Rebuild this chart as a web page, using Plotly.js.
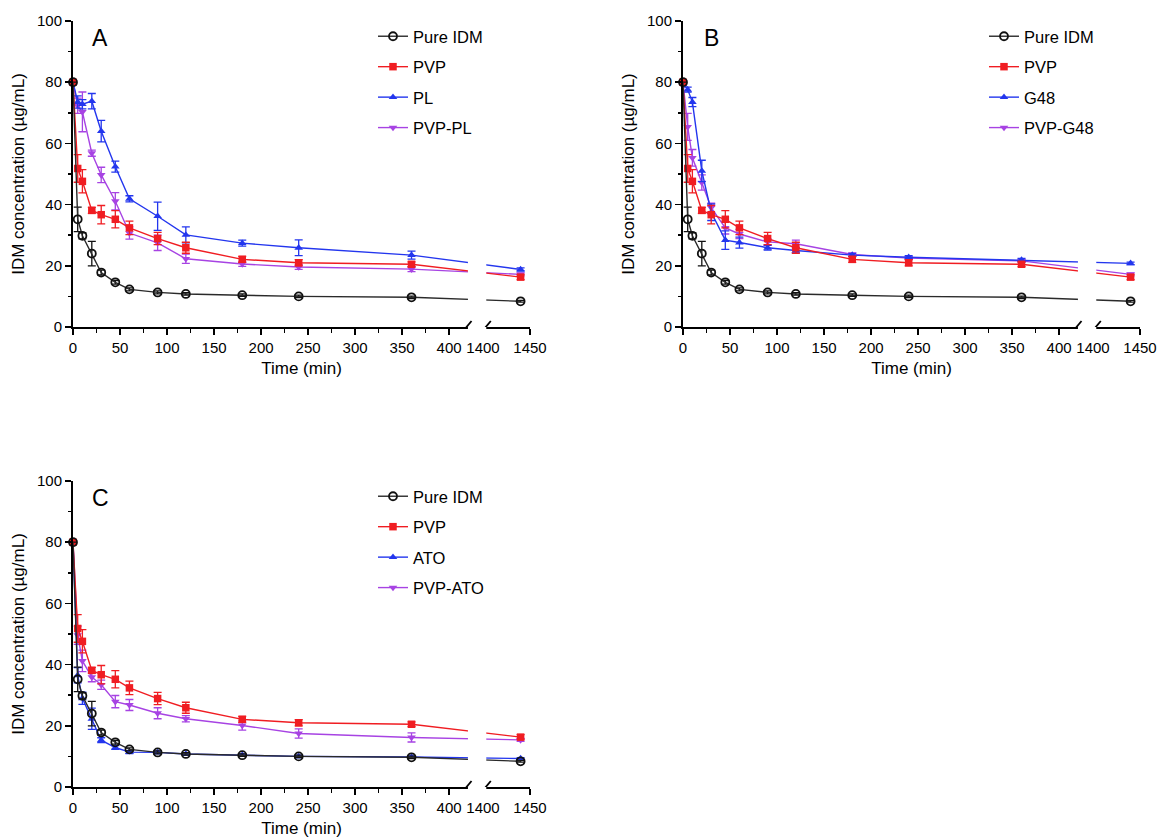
<!DOCTYPE html>
<html>
<head>
<meta charset="utf-8">
<script src="https://cdn.plot.ly/plotly-3.0.1.min.js"></script>
<style>html,body{margin:0;padding:0;background:#fff;}#chart{width:1161px;height:840px;}</style>
</head>
<body>
<div id="chart"></div>
<script>
// ---- data ----
const time = [0, 5, 10, 20, 30, 45, 60, 90, 120, 180, 240, 360, 1440];

const pureIDM     = [80, 35.2, 29.8, 24.0, 17.8, 14.6, 12.3, 11.3, 10.8, 10.4, 10.0, 9.7, 8.4];
const pureIDMErr  = [0, 4.0, 1.0, 4.0, 0.8, 0.6, 0.5, 0.5, 0.4, 0.4, 0.4, 0.4, 0.3];
const pvp         = [80, 51.8, 47.6, 38.1, 36.7, 35.2, 32.4, 28.9, 25.9, 22.1, 21.0, 20.5, 16.3];
const pvpErr      = [0, 4.5, 3.8, 1.0, 3.0, 2.8, 2.2, 2.0, 1.8, 1.0, 1.0, 0.8, 0.8];
const pl          = [80, 73.5, 72.8, 73.8, 64.0, 52.4, 41.9, 36.2, 30.1, 27.4, 25.9, 23.5, 18.8];
const plErr       = [0, 2.0, 1.5, 2.5, 3.5, 1.8, 1.0, 4.6, 2.6, 1.0, 2.6, 1.3, 0.5];
const pvpPl       = [80, 72.3, 70.3, 56.8, 49.7, 41.1, 30.7, 27.5, 22.3, 20.6, 19.6, 18.9, 17.2];
const pvpPlErr    = [0, 2.5, 6.5, 1.0, 2.5, 2.8, 2.0, 2.5, 1.5, 0.8, 0.8, 0.8, 0.5];
const g48         = [80, 77.6, 73.5, 51.0, 37.5, 28.4, 27.6, 25.9, 25.0, 23.5, 22.8, 21.9, 20.8];
const g48Err      = [0, 0.8, 1.5, 3.5, 2.7, 3.0, 1.8, 0.8, 0.8, 0.5, 0.5, 0.5, 0.4];
const pvpG48      = [80, 65.4, 55.3, 47.2, 39.0, 32.4, 30.4, 27.8, 27.2, 23.7, 22.5, 21.6, 17.2];
const pvpG48Err   = [0, 4.4, 2.7, 2.5, 1.5, 2.0, 1.5, 1.0, 1.2, 0.5, 0.5, 0.5, 0.5];
const ato         = [80, 36.5, 29.0, 22.3, 15.3, 12.9, 11.4, 11.3, 10.8, 10.4, 10.0, 9.8, 9.3];
const atoErr      = [0, 2.5, 2.0, 3.5, 0.8, 0.6, 0.5, 0.4, 0.4, 0.4, 0.4, 0.4, 0.3];
const pvpAto      = [80, 49.6, 41.2, 35.9, 33.4, 27.9, 26.8, 24.1, 22.3, 20.1, 17.5, 16.2, 15.4];
const pvpAtoErr   = [0, 3.0, 3.5, 1.5, 1.5, 2.0, 1.8, 1.8, 1.0, 1.5, 1.5, 1.5, 0.5];

const majorTicks = [0, 50, 100, 150, 200, 250, 300, 350, 400, 1400, 1450];
const minorTicks = [25, 75, 125, 175, 225, 275, 325, 375];
const panelLabels = ['A', 'B', 'C'];

// ---- broken axis mapping (segment 1: 0-420, segment 2: 1400-1450) ----
const BREAK_SHIFT = 964;
const bx = t => (t >= 1400 ? t - BREAK_SHIFT : t);
const X = time.map(bx);

const FONT = '"Liberation Sans", Arial, Helvetica, sans-serif';
const C_BLACK = '#111111', C_RED = '#f01d22', C_BLUE = '#2336ee', C_PURPLE = '#a743e3';

function series(name, y, err, color, symbol, size, xa, ya, leg, rank, lineColor) {
  return {
    type: 'scatter', mode: 'lines+markers', name: name,
    x: X, y: y,
    xaxis: xa, yaxis: ya, legend: leg, legendrank: rank, legendgroup: leg + name,
    cliponaxis: false,
    line: {color: lineColor || color, width: 1.4},
    marker: {symbol: symbol, size: size, color: color,
             line: {color: color, width: symbol === 'circle-open' ? 1.8 : 0}},
    error_y: {type: 'data', array: err, visible: true, color: color, thickness: 1.3, width: 4}
  };
}

const panels = [
  {xa: 'x',  ya: 'y',  leg: 'legend',  other: ['PL', pl, plErr], combo: ['PVP-PL', pvpPl, pvpPlErr]},
  {xa: 'x2', ya: 'y2', leg: 'legend2', other: ['G48', g48, g48Err], combo: ['PVP-G48', pvpG48, pvpG48Err]},
  {xa: 'x3', ya: 'y3', leg: 'legend3', other: ['ATO', ato, atoErr], combo: ['PVP-ATO', pvpAto, pvpAtoErr]}
];

const data = [];
panels.forEach(p => {
  data.push(series(p.combo[0], p.combo[1], p.combo[2], C_PURPLE, 'triangle-down', 7.5, p.xa, p.ya, p.leg, 4));
  data.push(series(p.other[0], p.other[1], p.other[2], C_BLUE, 'triangle-up', 7.5, p.xa, p.ya, p.leg, 3));
  data.push(series('PVP', pvp, pvpErr, C_RED, 'square', 7.5, p.xa, p.ya, p.leg, 2));
  data.push(series('Pure IDM', pureIDM, pureIDMErr, C_BLACK, 'circle-open', 8, p.xa, p.ya, p.leg, 1, '#2a2a2a'));
});

const W = 1161, H = 840;
const px = v => v / W, py = v => 1 - v / H;

function xAxis(domain, anchor) {
  return {
    domain: domain, anchor: anchor, range: [0, 486],
    showline: true, linecolor: '#000', linewidth: 2,
    ticks: 'outside', ticklen: 6, tickwidth: 1.6, tickcolor: '#000',
    tickmode: 'array', tickvals: majorTicks.map(bx), ticktext: majorTicks.map(String),
    minor: {tickmode: 'array', tickvals: minorTicks, ticks: 'outside', ticklen: 3.5, tickwidth: 1.6, tickcolor: '#000'},
    showgrid: false, zeroline: false,
    tickfont: {family: FONT, size: 15, color: '#000'},
    title: {text: 'Time (min)', font: {family: FONT, size: 17, color: '#000'}, standoff: 7}
  };
}
function yAxis(domain, anchor) {
  return {
    domain: domain, anchor: anchor, range: [0, 100],
    showline: true, linecolor: '#000', linewidth: 2,
    ticks: 'outside', ticklen: 6, tickwidth: 1.6, tickcolor: '#000',
    tickmode: 'array', tickvals: [0, 20, 40, 60, 80, 100],
    minor: {tickmode: 'array', tickvals: [10, 30, 50, 70, 90], ticks: 'outside', ticklen: 3.5, tickwidth: 1.6, tickcolor: '#000'},
    showgrid: false, zeroline: false,
    tickfont: {family: FONT, size: 15, color: '#000'},
    title: {text: 'IDM concentration (µg/mL)', font: {family: FONT, size: 17, color: '#000'}, standoff: 8}
  };
}

const xdA = [px(73), px(530)], xdB = [px(683), px(1140)];
const ydTop = [py(327), py(21)], ydBot = [py(787), py(481)];

function legendAt(x, y) {
  return {x: px(x), y: py(y), xanchor: 'left', yanchor: 'top', bgcolor: 'rgba(0,0,0,0)',
          font: {family: FONT, size: 16.5, color: '#000'}, traceorder: 'grouped', tracegroupgap: 6,
          itemclick: false};
}

const shapes = [];
['x', 'x2', 'x3'].forEach((xr, i) => {
  const yr = ['y', 'y2', 'y3'][i];
  shapes.push({type: 'rect', xref: xr, yref: yr + ' domain', x0: 420, x1: 439.5, y0: -0.03, y1: 1.02,
               fillcolor: '#fff', line: {width: 0}, layer: 'above'});
  [418.5, 439].forEach(c => shapes.push({
    type: 'line', xref: xr, yref: yr, xsizemode: 'pixel', ysizemode: 'pixel',
    xanchor: c, yanchor: 0, x0: -5, x1: 5, y0: -6, y1: 6,
    line: {color: '#000', width: 1.8}, layer: 'above'}));
});

const annotations = [
  {text: panelLabels[0], x: px(100), y: py(38)},
  {text: panelLabels[1], x: px(711), y: py(38)},
  {text: panelLabels[2], x: px(100), y: py(498)}
].map(a => Object.assign(a, {xref: 'paper', yref: 'paper', showarrow: false, xanchor: 'center', yanchor: 'middle',
                              font: {family: FONT, size: 23, color: '#000'}}));

const layout = {
  width: W, height: H, margin: {l: 0, r: 0, t: 0, b: 0},
  paper_bgcolor: '#fff', plot_bgcolor: 'rgba(0,0,0,0)',
  font: {family: FONT, color: '#000'},
  showlegend: true,
  xaxis: xAxis(xdA, 'y'), yaxis: yAxis(ydTop, 'x'),
  xaxis2: xAxis(xdB, 'y2'), yaxis2: yAxis(ydTop, 'x2'),
  xaxis3: xAxis(xdA, 'y3'), yaxis3: yAxis(ydBot, 'x3'),
  legend: legendAt(373, 19), legend2: legendAt(984, 19), legend3: legendAt(373, 479),
  shapes: shapes, annotations: annotations
};

Plotly.newPlot('chart', data, layout, {staticPlot: true, displayModeBar: false});
</script>
</body>
</html>
